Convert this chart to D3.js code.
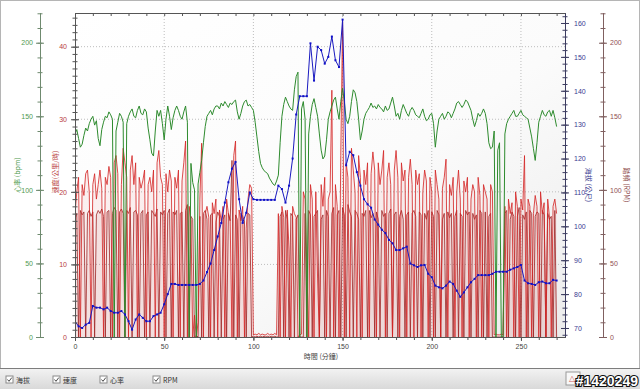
<!DOCTYPE html>
<html>
<head>
<meta charset="utf-8">
<script src="https://cdn.jsdelivr.net/npm/d3@7"></script>
<style>
  body { margin: 0; background: #fff; }
  svg text { font-family: "Liberation Sans", Arial, sans-serif; }
</style>
</head>
<body>
<div id="chart"></div>
<script>
// Elevation: one sample every 2 minutes (0..270)
// Heart rate, speed and cadence: one sample every minute (0..270)
const coarseStep = 2;
const fineStep = 1;

const heartRate = [
  138, 141, 135, 129, 131, 137, 142, 140, 145, 148,
  150, 144, 147, 135, 130, 141, 146, 150, 149, 153,
  151, 148, 0, 140, 146, 152, 150, 146, 0, 145,
  150, 153, 155, 150, 149, 154, 157, 152, 151, 155,
  153, 142, 134, 125, 123, 140, 154, 150, 154, 145,
  134, 148, 157, 150, 141, 149, 154, 157, 154, 150,
  148, 153, 157, 146, 0, 118, 105, 100, 0, 104,
  112, 120, 132, 143, 150, 152, 154, 151, 155, 157,
  157, 155, 159, 157, 160, 158, 156, 159, 158, 160,
  161, 153, 148, 152, 157, 160, 161, 157, 158, 156,
  154, 146, 136, 126, 118, 115, 113, 112, 111, 108,
  106, 104, 103, 106, 110, 132, 150, 158, 163, 160,
  157, 155, 154, 168, 177, 180, 0, 155, 160, 148,
  0, 138, 150, 158, 162, 156, 150, 138, 127, 121,
  123, 134, 148, 153, 157, 161, 163, 155, 148, 160,
  169, 160, 148, 145, 150, 160, 168, 166, 160, 148,
  134, 140, 148, 152, 154, 156, 159, 156, 157, 155,
  158, 156, 155, 153, 157, 154, 155, 159, 163, 157,
  150, 152, 148, 154, 158, 155, 152, 150, 154, 156,
  154, 151, 150, 149, 152, 155, 150, 147, 148, 151,
  152, 145, 129, 140, 148, 150, 152, 148, 150, 153,
  152, 149, 152, 155, 159, 160, 158, 156, 158, 161,
  160, 157, 154, 148, 143, 147, 152, 150, 152, 155,
  152, 145, 132, 128, 129, 140, 0, 127, 132, 0,
  0, 138, 145, 148, 150, 152, 154, 150, 150, 152,
  154, 151, 150, 149, 148, 142, 136, 128, 120, 132,
  146, 150, 154, 151, 150, 153, 154, 150, 154, 149,
  143
];

const elevation = [
  72, 70.5, 70, 71, 71.5, 76.5, 76, 76, 75.5, 76, 75,
  74.5, 74.5, 75, 74, 72, 69.5, 72.5,
  74, 73, 72, 72, 73.5, 74, 74.5, 77, 80, 83, 83, 82.7, 82.7, 82.7,
  82.7, 82.7, 82.7, 83,
  84, 86.5, 89, 93, 97, 101, 107, 113, 117, 119, 108, 101, 104, 110,
  108, 107.8, 107.8, 107.8, 107.8, 107.8, 107.8,
  112, 111, 107, 112, 120, 133,
  138.4, 138.4, 138.4,
  154, 143, 153, 152, 148, 150, 156, 149, 147, 161,
  118, 122, 121, 116, 112,
  108, 106.5, 105.5, 102, 100.5, 99, 98, 96, 95, 93, 93, 93.5, 94, 89, 88.5, 88, 88.5, 88.6, 86,
  85, 82.5, 82, 81.7, 82.5, 83.7, 83, 81, 79.2, 80.5, 82, 83.5, 84.5, 85.6, 85.6, 85.6, 85.6, 86,
  86.6, 86.6, 86.6,
  86.6, 87.2, 87.6, 88, 88.6, 84, 83.2, 83, 82.7, 83.5, 83.7, 83.2, 83.2, 84.2, 84
];

const speed = [
  17, 20, 22, 0, 21, 19.5, 22.5, 23, 20, 0,
  21, 22.5, 19, 21, 23, 20.5, 0, 22, 21, 23.5,
  22, 0, 24, 25, 22.5, 0, 21, 26, 24, 22,
  0, 23, 25, 21, 24, 0, 22, 20.5, 21.5, 23,
  0, 21, 22, 20, 23, 0, 24, 25.7, 22, 21,
  0, 22.5, 20, 23, 21.5, 0, 22, 20.5, 23, 0,
  21.5, 24, 27, 0, 18, 16, 0, 3, 0, 2,
  19, 26.7, 0, 17, 18, 16.5, 0, 18.5, 17, 19,
  0, 17.5, 16, 18, 0, 19, 17, 16, 0, 25,
  27, 0, 17.5, 16, 18, 0, 15, 19, 21, 20.5,
  0.3, 0.4, 0.3, 0.5, 0.3, 0.4, 0.3, 0.3, 0.5, 0.3,
  0.4, 0.3, 0.5, 0.3, 17, 0, 18, 16.5, 0, 17.5,
  12, 0, 18, 17, 16.5, 0, 0.3, 0.4, 20, 19,
  9.5, 0, 21, 19, 0, 20, 8, 0, 21, 18,
  22, 0, 19, 20, 34, 0, 21, 18, 0, 25,
  43.5, 0, 24, 22, 0, 26, 23, 20, 0, 25,
  22, 0, 23, 21, 24, 0, 22.5, 25.5, 23, 0,
  24, 21, 23, 25.7, 0, 22, 24, 21, 0, 23,
  25.7, 22, 0, 24, 21.5, 23, 0, 22, 24.5, 21,
  0, 23, 21, 22.5, 0, 20, 23, 21.5, 0, 22,
  20, 0, 23, 21, 19, 0, 20.5, 22, 24.5, 0,
  21, 19.5, 22, 0, 20, 23, 19, 0, 21.5, 20,
  22, 0, 19, 21, 20, 0, 22, 19.5, 0, 21,
  20, 19, 0, 21, 20, 0.3, 0.4, 0.3, 0.3, 0.4,
  0.3, 18, 0, 19, 17, 18.5, 0, 20, 18, 0,
  19, 17.5, 25, 0, 19, 18, 0, 17, 19.5, 18,
  0, 20, 17, 18.5, 0, 19, 16.5, 0, 18, 19,
  17
];

const cadence = [
  80, 84, 0, 86, 83, 85, 0, 84, 86, 82,
  85, 0, 83, 86, 84, 87, 82, 0, 85, 86,
  0, 84, 88, 86, 0, 85, 87, 84, 0, 86,
  84, 88, 0, 85, 86, 83, 0, 84, 86, 0,
  83, 85, 0, 86, 84, 82, 87, 0, 85, 83,
  86, 0, 84, 87, 0, 85, 83, 86, 0, 84,
  85, 0, 86, 90, 0, 82, 80, 0, 1, 0,
  82, 0, 84, 86, 80, 0, 83, 84, 0, 78,
  85, 82, 0, 80, 83, 0, 84, 79, 120, 0,
  83, 80, 0, 84, 82, 79, 0, 84, 83, 0,
  0.5, 0, 0.5, 0, 0.5, 0, 0.5, 0, 0.5, 0,
  0.5, 0, 0.5, 0, 0, 82, 85, 0, 86, 80,
  0, 84, 82, 0, 80, 83, 0, 0, 0, 84,
  0, 86, 83, 0, 82, 84, 86, 0, 80, 83,
  0, 86, 82, 0, 84, 88, 0, 83, 86, 0,
  88, 83, 0, 90, 85, 82, 0, 86, 84, 80,
  0, 84, 82, 86, 0, 86, 81, 84, 0, 85,
  80, 0, 86, 82, 84, 0, 84, 87, 0, 83,
  85, 0, 82, 86, 80, 0, 83, 85, 0, 84,
  86, 82, 0, 85, 83, 0, 84, 80, 86, 0,
  85, 82, 0, 86, 83, 0, 80, 84, 0, 85,
  81, 84, 0, 82, 86, 0, 84, 82, 0, 86,
  83, 85, 0, 84, 80, 83, 0, 86, 84, 0,
  85, 0, 82, 84, 0, 0, 0, 0, 0, 0,
  0, 84, 86, 0, 80, 85, 82, 0, 82, 88,
  0, 83, 80, 85, 0, 86, 84, 0, 82, 85,
  84, 0, 86, 83, 0, 84, 80, 82, 0, 86,
  0
];

const timeTicks = [0, 50, 100, 150, 200, 250];
const hrTicks = [0, 50, 100, 150, 200];
const speedTicks = [0, 10, 20, 30, 40];
const elevTicks = [70, 80, 90, 100, 110, 120, 130, 140, 150, 160];
const rpmTicks = [0, 50, 100, 150, 200];
const legendItems = ["海拔", "速度", "心率", "RPM"];

// Setup
const svgWidth = 640, svgHeight = 389;
const plot = { left: 75, right: 565, top: 13, bottom: 337 };
const cjk = "'Noto Sans CJK TC', 'Noto Sans CJK SC', sans-serif";
const latin = "'Liberation Sans', Arial, sans-serif";

const svg = d3.select("#chart").append("svg")
  .attr("width", svgWidth)
  .attr("height", svgHeight);

const defs = svg.append("defs");
const bg = defs.append("linearGradient").attr("id", "plotbg")
  .attr("x1", 0).attr("y1", 0).attr("x2", 1).attr("y2", 1);
bg.append("stop").attr("offset", "0%").attr("stop-color", "#ffffff");
bg.append("stop").attr("offset", "55%").attr("stop-color", "#fbfbfb");
bg.append("stop").attr("offset", "100%").attr("stop-color", "#ececec");

const panel = defs.append("linearGradient").attr("id", "panelbg")
  .attr("x1", 0).attr("y1", 0).attr("x2", 0).attr("y2", 1);
panel.append("stop").attr("offset", "0%").attr("stop-color", "#f2f2f2");
panel.append("stop").attr("offset", "100%").attr("stop-color", "#d9d9d9");

defs.append("clipPath").attr("id", "clip")
  .append("rect")
  .attr("x", plot.left).attr("y", plot.top)
  .attr("width", plot.right - plot.left).attr("height", plot.bottom - plot.top);

svg.append("rect").attr("width", svgWidth).attr("height", svgHeight).attr("fill", "#fff");
svg.append("rect")
  .attr("x", 0.5).attr("y", 0.5).attr("width", svgWidth - 1).attr("height", 368)
  .attr("fill", "#fff").attr("stroke", "#b5b5b5");

svg.append("rect")
  .attr("x", plot.left).attr("y", plot.top)
  .attr("width", plot.right - plot.left).attr("height", plot.bottom - plot.top)
  .attr("fill", "url(#plotbg)");

// Scales
const x = d3.scaleLinear().domain([0, 274.7]).range([plot.left, plot.right]);
const ySpeed = d3.scaleLinear().domain([0, 44.64]).range([plot.bottom, plot.top]);
const yHr = d3.scaleLinear().domain([0, 220.2]).range([plot.bottom, plot.top]);
const yRpm = d3.scaleLinear().domain([0, 220.2]).range([plot.bottom, plot.top]);
const yElev = d3.scaleLinear().domain([67.34, 162.95]).range([plot.bottom, plot.top]);

// Grid
const grid = svg.append("g").attr("stroke", "#bdbdbd").attr("stroke-dasharray", "1,2");
grid.selectAll(".vg").data(timeTicks.slice(1)).join("line")
  .attr("x1", d => x(d)).attr("x2", d => x(d))
  .attr("y1", plot.top).attr("y2", plot.bottom);
grid.selectAll(".hg").data(speedTicks.slice(1)).join("line")
  .attr("x1", plot.left).attr("x2", plot.right)
  .attr("y1", d => ySpeed(d)).attr("y2", d => ySpeed(d));

// Series
const series = svg.append("g").attr("clip-path", "url(#clip)");

const area = (yScale, step) => d3.area().x((d, i) => x(i * step)).y0(plot.bottom).y1(d => yScale(d));
const line = (yScale, step) => d3.line().x((d, i) => x(i * step)).y(d => yScale(d));

series.append("path").attr("d", area(yRpm, fineStep)(cadence)).attr("fill", "rgba(175,70,70,0.08)");
series.append("path").attr("d", area(ySpeed, fineStep)(speed)).attr("fill", "rgba(230,80,80,0.08)");
series.append("path").attr("d", line(yRpm, fineStep)(cadence))
  .attr("fill", "none").attr("stroke", "#9e2626").attr("stroke-width", 0.9).attr("stroke-opacity", 0.9);
series.append("path").attr("d", line(ySpeed, fineStep)(speed))
  .attr("fill", "none").attr("stroke", "#d42424").attr("stroke-width", 0.9).attr("stroke-opacity", 0.9);
series.append("path").attr("d", line(yHr, fineStep)(heartRate))
  .attr("fill", "none").attr("stroke", "#2e8b2e").attr("stroke-width", 1);
series.append("path").attr("d", line(yElev, coarseStep)(elevation))
  .attr("fill", "none").attr("stroke", "#1a1ac0").attr("stroke-width", 1);
series.selectAll(".marker").data(elevation).join("rect")
  .attr("x", (d, i) => x(i * coarseStep) - 1).attr("y", d => yElev(d) - 1)
  .attr("width", 2).attr("height", 2).attr("fill", "#1010c8");

// Axes
function drawAxis(xPos, scale, majors, minors, lineColor, textColor, labelSide, pad) {
  const g = svg.append("g").attr("transform", `translate(${xPos},0)`);
  const axisA = labelSide === "left" ? d3.axisLeft : d3.axisRight;
  const axisB = labelSide === "left" ? d3.axisRight : d3.axisLeft;
  g.append("g").call(axisA(scale).tickValues(minors).tickSize(2.5).tickSizeOuter(0).tickFormat(""));
  g.append("g").call(axisB(scale).tickValues(minors).tickSize(2.5).tickSizeOuter(0).tickFormat(""));
  g.append("g").call(axisB(scale).tickValues(majors).tickSize(4).tickSizeOuter(0).tickFormat(""));
  g.append("g").call(axisA(scale).tickValues(majors).tickSize(4).tickSizeOuter(0).tickPadding(pad));
  g.selectAll("path.domain").attr("stroke", lineColor);
  g.selectAll("line").attr("stroke", lineColor);
  g.selectAll("text").attr("fill", textColor).style("font-size", "7px").style("font-family", latin);
  return g;
}

drawAxis(40, yHr, hrTicks, d3.range(0, 221, 10), "#6f8a6f", "#4f9a4f", "left", 3);
drawAxis(plot.left, ySpeed, speedTicks, d3.range(0, 45, 1), "#555", "#b84040", "left", 4);
drawAxis(plot.right, yElev, elevTicks, d3.range(68, 163, 2), "#3c3c60", "#3a3a90", "right", 5);
drawAxis(603, yRpm, rpmTicks, d3.range(0, 221, 10), "#806060", "#905050", "right", 3);

// Bottom and top time axes
const xMinor = d3.range(0, 275, 10);
const xb = svg.append("g").attr("transform", `translate(0,${plot.bottom})`);
xb.append("g").call(d3.axisBottom(x).tickValues(xMinor).tickSize(3).tickSizeOuter(0).tickFormat(""));
xb.append("g").call(d3.axisBottom(x).tickValues(timeTicks).tickSize(4).tickSizeOuter(0).tickPadding(3));
const xt = svg.append("g").attr("transform", `translate(0,${plot.top})`);
xt.append("g").call(d3.axisBottom(x).tickValues(xMinor).tickSize(3).tickSizeOuter(0).tickFormat(""));
xb.selectAll("path.domain, line").attr("stroke", "#555");
xt.selectAll("path.domain, line").attr("stroke", "#555");
xb.selectAll("text").attr("fill", "#444").style("font-size", "7px").style("font-family", latin);

// Axis titles
svg.append("text")
  .attr("transform", "translate(20,175) rotate(-90)")
  .attr("text-anchor", "middle").attr("font-size", 7).attr("fill", "#4f9a4f")
  .style("font-family", cjk).text("心率 (bpm)");

svg.append("text")
  .attr("transform", "translate(58,172) rotate(-90)")
  .attr("text-anchor", "middle").attr("font-size", 7).attr("fill", "#b84040")
  .style("font-family", cjk).text("速度(公里/時)");

svg.append("text")
  .attr("transform", "translate(586,185) rotate(90)")
  .attr("text-anchor", "middle").attr("font-size", 7).attr("fill", "#3a3a90")
  .style("font-family", cjk).text("海拔 (公尺)");

svg.append("text")
  .attr("transform", "translate(624,185) rotate(90)")
  .attr("text-anchor", "middle").attr("font-size", 7).attr("fill", "#905050")
  .style("font-family", cjk).text("踏頻 (RPM)");

svg.append("text")
  .attr("x", 321).attr("y", 359)
  .attr("text-anchor", "middle").attr("font-size", 7).attr("fill", "#444")
  .style("font-family", cjk).text("時間 (分鐘)");

// Bottom panel with check boxes
svg.append("rect")
  .attr("x", 0).attr("y", 369).attr("width", svgWidth).attr("height", 20)
  .attr("fill", "url(#panelbg)");
svg.append("line")
  .attr("x1", 0).attr("x2", svgWidth).attr("y1", 368.5).attr("y2", 368.5)
  .attr("stroke", "#7d7d7d");

const legend = svg.append("g").selectAll("g").data(legendItems).join("g")
  .attr("transform", (d, i) => `translate(${[6, 53, 100, 153][i]},376)`);
legend.append("rect")
  .attr("width", 7).attr("height", 7).attr("fill", "#fff").attr("stroke", "#8a8a8a");
legend.append("path")
  .attr("d", "M1.5,3.5 L3,5.3 L5.8,1.6")
  .attr("fill", "none").attr("stroke", "#333").attr("stroke-width", 0.9);
legend.append("text")
  .attr("x", 10).attr("y", 6.5).attr("font-size", 7).attr("fill", "#333")
  .style("font-family", cjk).text(d => d);

svg.append("rect")
  .attr("x", 566).attr("y", 372).attr("width", 14).attr("height", 13)
  .attr("fill", "#f8f8f8").attr("stroke", "#999");
svg.append("text")
  .attr("x", 569).attr("y", 381).attr("font-size", 8).attr("fill", "#d06060").text("△");

svg.append("text")
  .attr("x", 638).attr("y", 386).attr("text-anchor", "end")
  .attr("font-size", 14).attr("font-weight", "bold")
  .attr("fill", "#fff").attr("stroke", "#111").attr("stroke-width", 2.2)
  .attr("paint-order", "stroke")
  .style("font-family", latin)
  .text("#1420249");
</script>
</body>
</html>
